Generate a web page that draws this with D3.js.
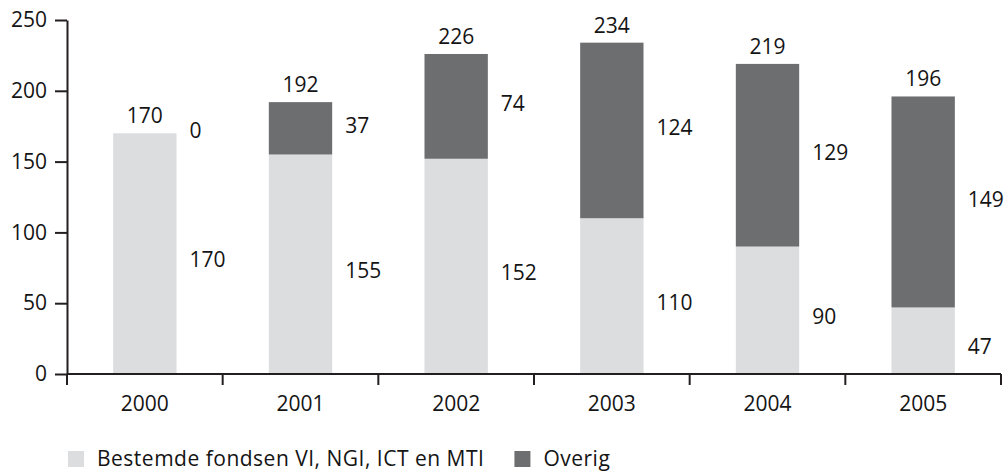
<!DOCTYPE html>
<html>
<head>
<meta charset="utf-8">
<script src="https://cdn.jsdelivr.net/npm/d3@7"></script>
<style>
	body { margin: 0; background: #fff; }
	text { font-family: "Open Sans", sans-serif; fill: #141414; }
</style>
</head>
<body>
<div id="chart"></div>
<script>
// data
var years = ["2000", "2001", "2002", "2003", "2004", "2005"];
var bestemd = [170, 155, 152, 110, 90, 47];
var overig = [0, 37, 74, 124, 129, 149];
var totals = [170, 192, 226, 234, 219, 196];
var yTicks = [0, 50, 100, 150, 200, 250];
var seriesNames = ["Bestemde fondsen VI, NGI, ICT en MTI", "Overig"];
var colors = ["#dcdddf", "#6d6e70"];

var width = 1006,
	height = 472;
var margin = { top: 20, right: 5, bottom: 98, left: 67 };
var fontSize = 21;

var svg = d3
	.select("#chart")
	.append("svg")
	.attr("width", width)
	.attr("height", height);

var x = d3
	.scaleBand()
	.domain(years)
	.range([margin.left, width - margin.right])
	.paddingInner(0)
	.paddingOuter(0);

var y = d3
	.scaleLinear()
	.domain([0, 250])
	.range([height - margin.bottom, margin.top]);

var barW = x.bandwidth() * 0.407;

var rows = years.map(function (yr, i) {
	return { year: yr, bestemd: bestemd[i], overig: overig[i], total: totals[i] };
});
var stack = d3.stack().keys(["bestemd", "overig"]);
var series = stack(rows);

// bars
svg
	.selectAll("g.series")
	.data(series)
	.enter()
	.append("g")
	.attr("class", "series")
	.attr("fill", function (d, i) {
		return colors[i];
	})
	.selectAll("rect")
	.data(function (d) {
		return d;
	})
	.enter()
	.append("rect")
	.attr("x", function (d) {
		return x(d.data.year) + (x.bandwidth() - barW) / 2;
	})
	.attr("width", barW)
	.attr("y", function (d) {
		return y(d[1]);
	})
	.attr("height", function (d) {
		return y(d[0]) - y(d[1]);
	});

// segment labels to the right of each bar
series.forEach(function (s, si) {
	svg
		.selectAll("text.seg" + si)
		.data(s)
		.enter()
		.append("text")
		.attr("class", "seg" + si)
		.attr("font-size", fontSize)
		.attr("x", function (d) {
			return x(d.data.year) + (x.bandwidth() + barW) / 2 + 13;
		})
		.attr("y", function (d) {
			var mid = (y(d[0]) + y(d[1])) / 2;
			if (si === 1 && d[1] - d[0] === 0) mid = y(d[1]);
			return mid + (si === 0 ? 6 : -3);
		})
		.attr("dy", "0.36em")
		.text(function (d) {
			return d[1] - d[0];
		});
});

// totals above bars
svg
	.selectAll("text.total")
	.data(rows)
	.enter()
	.append("text")
	.attr("class", "total")
	.attr("font-size", fontSize)
	.attr("text-anchor", "middle")
	.attr("x", function (d) {
		return x(d.year) + x.bandwidth() / 2;
	})
	.attr("y", function (d) {
		return y(d.total) - 10;
	})
	.text(function (d) {
		return d.total;
	});

// y axis
var yAxis = svg
	.append("g")
	.attr("transform", "translate(" + margin.left + ",0)")
	.call(
		d3.axisLeft(y).tickValues(yTicks).tickSize(12).tickSizeOuter(0).tickPadding(8)
	);
yAxis.selectAll("text").attr("font-size", fontSize).style("font-family", '"Open Sans", sans-serif').attr("fill", "#141414");
yAxis.selectAll("line, path").attr("stroke", "#231f20").attr("stroke-width", 2);

// x axis: baseline with ticks at the band edges
var xAxis = svg
	.append("g")
	.attr("transform", "translate(0," + y(0) + ")");
xAxis
	.append("line")
	.attr("x1", margin.left)
	.attr("x2", width - margin.right)
	.attr("stroke", "#231f20")
	.attr("stroke-width", 2);
var edges = years.map(function (d) {
	return x(d);
});
edges.push(width - margin.right);
xAxis
	.selectAll("line.edge")
	.data(edges)
	.enter()
	.append("line")
	.attr("class", "edge")
	.attr("x1", function (d) {
		return d;
	})
	.attr("x2", function (d) {
		return d;
	})
	.attr("y1", 0)
	.attr("y2", 11)
	.attr("stroke", "#231f20")
	.attr("stroke-width", 2);
xAxis
	.selectAll("text")
	.data(years)
	.enter()
	.append("text")
	.attr("font-size", fontSize)
	.attr("text-anchor", "middle")
	.attr("x", function (d) {
		return x(d) + x.bandwidth() / 2;
	})
	.attr("y", 37)
	.text(function (d) {
		return d;
	});

// legend (sits right at the bottom edge, nudged up so descenders fit)
var legend = svg.append("g").attr("transform", "translate(68,451)");
var lx = 0;
seriesNames.forEach(function (name, i) {
	var g = legend.append("g").attr("transform", "translate(" + lx + ",0)");
	g.append("rect").attr("width", 16).attr("height", 16).attr("fill", colors[i]);
	var t = g
		.append("text")
		.attr("font-size", fontSize)
		.attr("letter-spacing", 0.5)
		.attr("x", 29)
		.attr("y", 15)
		.text(name);
	lx += 29 + t.node().getComputedTextLength() + 30;
});
</script>
</body>
</html>
